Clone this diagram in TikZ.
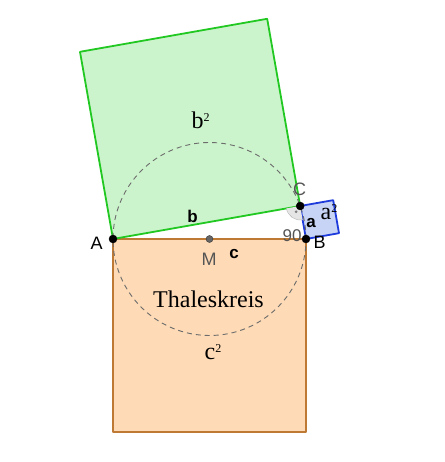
\documentclass[tikz,border=0pt]{standalone}
\usepackage{fontspec}
\setmainfont{Liberation Serif}
\setsansfont{Liberation Sans}
\usetikzlibrary{calc}
\usetikzlibrary{angles}
\definecolor{bfill}{RGB}{204,244,204}
\definecolor{bline}{RGB}{34,200,34}
\definecolor{cfill}{RGB}{254,218,182}
\definecolor{cline}{RGB}{190,122,52}
\definecolor{afill}{RGB}{200,212,246}
\definecolor{aline}{RGB}{30,60,220}
\definecolor{labelgray}{RGB}{85,85,85}
\newcommand{\sq}[1]{#1\raisebox{0.32em}{\fontsize{12}{12}\selectfont 2}}
\tikzset{
  square a/.style = {fill = afill, draw = aline, line width = 1.8pt, line join = round},
  square b/.style = {fill = bfill, draw = bline, line width = 1.8pt, line join = round},
  square c/.style = {fill = cfill, draw = cline, line width = 1.8pt, line join = round},
  thales/.style = {draw = gray!85!black, line width = 0.9pt, dash pattern = on 5pt off 4pt},
  pointlabel/.style = {inner sep = 0pt, anchor = base, font = \sffamily\fontsize{18}{18}\selectfont},
  sidelabel/.style = {pointlabel, font = \sffamily\bfseries\fontsize{17}{17}\selectfont},
  arealabel/.style = {inner sep = 0pt, anchor = base, font = \rmfamily\fontsize{24}{24}\selectfont}
}

\begin{document}
\begin{tikzpicture}[x = 1pt, y = 1pt]

			\useasboundingbox (0, 0) rectangle (444, 462);

			\coordinate (A) at (113, 223);
			\coordinate (B) at (306, 223);
			\coordinate (M) at ($(A)!0.5!(B)$);
			\path (A) ++(10:190.07) coordinate (C); % right angle at C

			\coordinate (A1) at ($(A)!1!90:(C)$); % square on b
			\coordinate (C1) at ($(C)!1!-90:(A)$);
			\coordinate (B2) at ($(B)!1!-90:(C)$); % square on a
			\coordinate (C2) at ($(C)!1!90:(B)$);
			\coordinate (A3) at ($(A) + (0, -193)$); % square on c
			\coordinate (B3) at ($(B) + (0, -193)$);

			\filldraw[square c] (A) -- (B) -- (B3) -- (A3) -- cycle;
			\filldraw[square b] (A) -- (C) -- (C1) -- (A1) -- cycle;
			\filldraw[square a] (B) -- (C) -- (C2) -- (B2) -- cycle;

			\pic[draw = gray!60, fill = gray!20, angle radius = 14pt]{angle = A--C--B};
			\fill[gray] ($(C) + (235:7)$) circle[radius = 1.5];

			\draw[thales] (M) circle[radius = 96.5]; % Thaleskreis

			\filldraw (A) circle[radius = 4];
			\filldraw (B) circle[radius = 4];
			\filldraw (C) circle[radius = 4];
			\filldraw[fill = gray!80!black, draw = gray!40!black] (M) circle[radius = 3.5];

			\node[pointlabel] (labA) at (96.7, 212) {A};
			\node[pointlabel] (labB) at (319.5, 213) {B};
			\node[pointlabel, text = labelgray] (labC) at (299.5, 266) {C};
			\node[pointlabel, text = labelgray] (labM) at (209, 196.5) {M};
			\node[pointlabel, text = labelgray, font = \sffamily\fontsize{17}{17}\selectfont] (lab90) at (292, 220.5) {90};

			\node[sidelabel] (laba) at (311, 234.5) {a};
			\node[sidelabel] (labb) at (192.5, 239.5) {b};
			\node[sidelabel] (labc) at (234, 203) {c};

			\node[arealabel] (aa) at (329, 242) {\sq{a}};
			\node[arealabel] (bb) at (200.7, 333) {\sq{b}};
			\node[arealabel] (cc) at (213, 102) {\sq{c}};
			\node[arealabel] (thal) at (208.5, 154) {Thaleskreis};
		\end{tikzpicture}
\end{document}
